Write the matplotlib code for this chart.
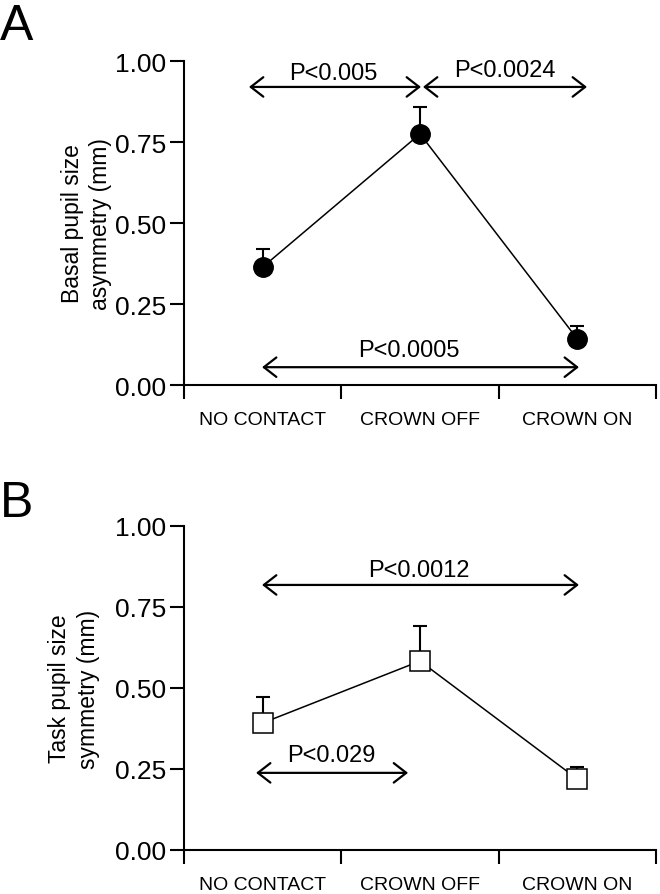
import numpy as np
import matplotlib.pyplot as plt

plt.rcParams['font.family'] = ['Liberation Sans', 'DejaVu Sans']

# 数据
groups = ['NO CONTACT', 'CROWN OFF', 'CROWN ON']
basal_mean = [0.364, 0.775, 0.142]
basal_err = [0.056, 0.083, 0.040]
task_mean = [0.392, 0.583, 0.219]
task_err = [0.080, 0.108, 0.037]

# 显著性标注: (起点, 终点, y, 文字, 文字x, 文字y)
basal_sig = [(0.413, 1.506, 0.92, 'P<0.005', 0.947, 0.944),
             (1.519, 2.561, 0.92, 'P<0.0024', 2.04, 0.953),
             (0.496, 2.51, 0.055, 'P<0.0005', 1.43, 0.0895)]
task_sig = [(0.496, 2.51, 0.818, 'P<0.0012', 1.494, 0.846),
            (0.458, 1.424, 0.238, 'P<0.029', 0.936, 0.275)]

fig = plt.figure(figsize=(6.6, 8.95), dpi=100)
axA = fig.add_axes([0.2788, 0.5687, 0.7152, 0.362])
axB = fig.add_axes([0.2788, 0.0492, 0.7152, 0.362])

x = np.arange(len(groups)) + 0.5


def style_axis(ax, ylabel, label_x):
    ax.set_xlim(0, 3)
    ax.set_ylim(0, 1)
    ax.spines['top'].set_visible(False)
    ax.spines['right'].set_visible(False)
    ax.spines['left'].set_linewidth(1.5)
    ax.spines['bottom'].set_linewidth(1.5)
    ax.set_yticks([0, 0.25, 0.5, 0.75, 1.0])
    ax.set_yticklabels(['0.00', '0.25', '0.50', '0.75', '1.00'])
    ax.set_xticks([0, 1, 2, 3])
    ax.set_xticklabels([])
    ax.set_xticks(x, minor=True)
    ax.set_xticklabels(groups, minor=True, fontsize=14)
    ax.tick_params(axis='both', which='major', direction='out', length=10, width=1.5)
    ax.tick_params(axis='y', labelsize=19, pad=3)
    ax.tick_params(axis='x', which='minor', length=0, pad=19)
    ax.text(label_x, 0.5, ylabel, transform=ax.transAxes, rotation=90,
            ha='center', va='center', fontsize=16.5, multialignment='center',
            linespacing=1.3)


def draw_sig(ax, sig):
    for x1, x2, y, txt, tx, ty in sig:
        ax.annotate('', xy=(x2, y), xytext=(x1, y),
                    arrowprops=dict(arrowstyle='<->, head_length=0.45, head_width=0.35',
                                    lw=1.6, color='black', shrinkA=0, shrinkB=0,
                                    mutation_scale=20))
        ax.text(tx, ty, txt, ha='center', va='baseline', fontsize=17)


# A
axA.errorbar(x, basal_mean, yerr=[np.zeros(3), basal_err], fmt='none',
             ecolor='black', elinewidth=1.5, capsize=4.7, capthick=1.5, zorder=2)
axA.plot(x, basal_mean, color='black', lw=1.1, marker='o', markersize=14,
         markerfacecolor='black', markeredgecolor='black', zorder=3)
style_axis(axA, 'Basal pupil size\nasymmetry (mm)', -0.206)
draw_sig(axA, basal_sig)

# B
axB.errorbar(x, task_mean, yerr=[np.zeros(3), task_err], fmt='none',
             ecolor='black', elinewidth=1.5, capsize=4.7, capthick=1.5, zorder=2)
axB.plot(x, task_mean, color='black', lw=1.1, marker='s', markersize=14,
         markerfacecolor='white', markeredgecolor='black', markeredgewidth=1.1,
         zorder=3)
style_axis(axB, 'Task pupil size\nsymmetry (mm)', -0.233)
draw_sig(axB, task_sig)

fig.text(0.0, 1 - 4 / 895, 'A', fontsize=36, ha='left', va='top')
fig.text(0.0, 1 - 481 / 895, 'B', fontsize=36, ha='left', va='top')

plt.savefig('out.png', dpi=100)
